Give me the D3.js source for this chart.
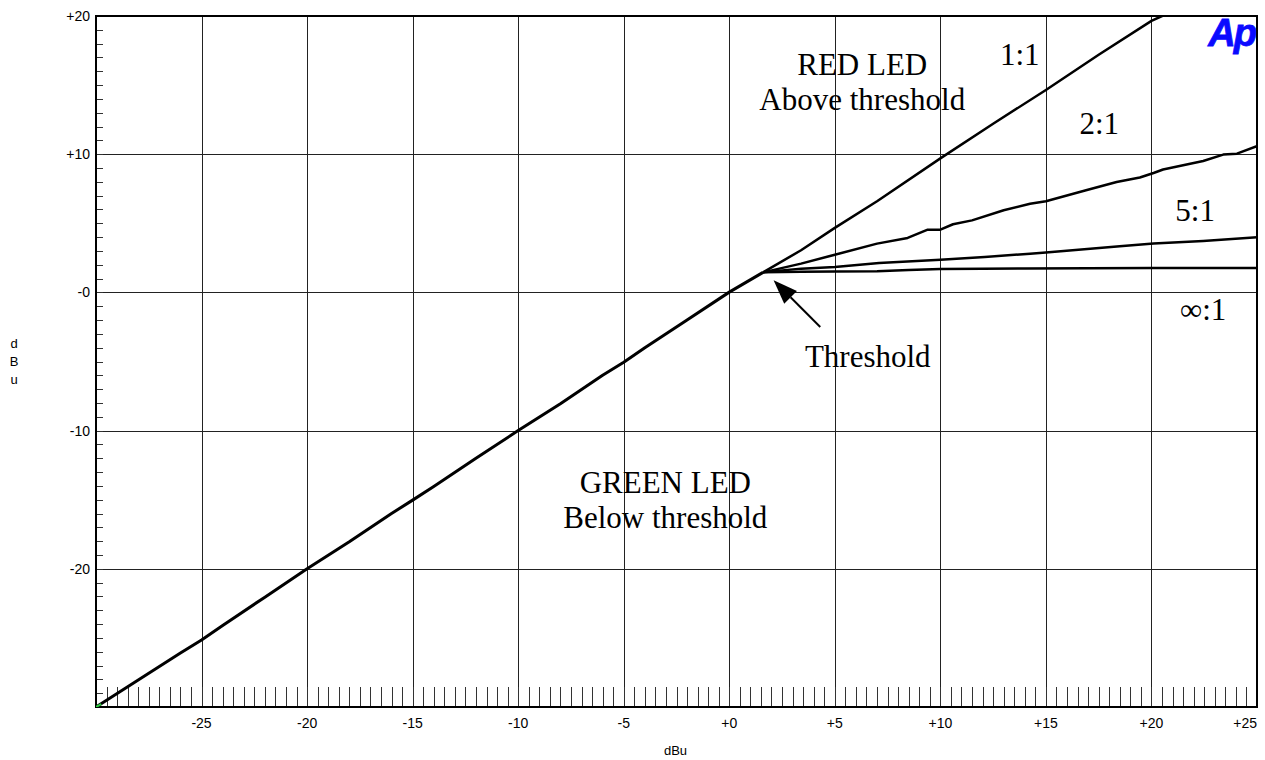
<!DOCTYPE html>
<html>
<head>
<meta charset="utf-8">
<script src="https://cdn.jsdelivr.net/npm/d3@7/dist/d3.min.js"></script>
<style>
  html, body { margin: 0; padding: 0; background: #fff; }
  svg { display: block; }
</style>
</head>
<body>
<svg id="chart" width="1265" height="760"></svg>
<script>
// ---------- data (dBu in -> dBu out) ----------
const xTicks = [-25, -20, -15, -10, -5, 0, 5, 10, 15, 20, 25];
const xTickLabels = ["-25", "-20", "-15", "-10", "-5", "+0", "+5", "+10", "+15", "+20", "+25"];
const yTicks = [20, 10, 0, -10, -20];
const yTickLabels = ["+20", "+10", "-0", "-10", "-20"];

// common segment below threshold (all ratios overlap)
const belowX = [-30, -28, -26, -25, -24, -22, -20, -18, -16, -15, -14, -12, -10, -8, -6, -5, -4, -2, 0, 1.6];
const belowY = [-30, -28.05, -26.1, -25.15, -24.1, -22.05, -20, -18.05, -16.0, -15.03, -14.05, -12.0, -10.0, -8.05, -6.0, -5.05, -4.0, -2.0, 0.02, 1.45];

const r11X = [1.6, 3.4, 5, 7, 10, 12.5, 15, 17.5, 20, 20.5, 20.8];
const r11Y = [1.45, 3.05, 4.67, 6.6, 9.7, 12.2, 14.65, 17.2, 19.65, 20.0, 20.2];

const r21X = [1.6, 3.4, 5, 7, 8.45, 9.4, 10, 10.6, 11.5, 13, 14.25, 15, 16.9, 18.35, 19.45, 20.1, 20.55, 22.45, 23.4, 24.05, 25.1];
const r21Y = [1.45, 2.08, 2.73, 3.53, 3.94, 4.54, 4.54, 4.93, 5.21, 5.94, 6.42, 6.59, 7.39, 7.99, 8.31, 8.64, 8.89, 9.51, 9.97, 10.04, 10.64];

const r51X = [1.6, 3.4, 5, 7.1, 10, 12.1, 14.25, 15, 18.5, 20.1, 22.45, 25.1];
const r51Y = [1.45, 1.72, 1.84, 2.13, 2.37, 2.56, 2.8, 2.88, 3.34, 3.53, 3.72, 4.01];

const rInfX = [1.6, 3.4, 5, 7, 8.5, 10, 12, 14, 17, 20, 25.1];
const rInfY = [1.45, 1.5, 1.52, 1.53, 1.62, 1.7, 1.72, 1.73, 1.75, 1.76, 1.77];

const ratioLabels = ["1:1", "2:1", "5:1", "\u221E:1"];
const ratioLabelPos = [[13.76, 16.43], [17.53, 11.44], [22.07, 5.14], [22.45, -2.02]];

// ---------- layout ----------
const svg = d3.select("#chart");
const L = 96, T = 16, R = 1257, B = 707;
const x = d3.scaleLinear().domain([-30, 25]).range([L, R]);
const y = d3.scaleLinear().domain([-30, 20]).range([B, T]);

const serif = "'Liberation Serif', 'Times New Roman', serif";
const sans = "'Liberation Sans', Arial, sans-serif";

// grid
const g = svg.append("g");
g.selectAll("line.vg").data(xTicks.filter(d => d < 25)).enter().append("line")
  .attr("x1", d => Math.round(x(d)) + 0.5).attr("x2", d => Math.round(x(d)) + 0.5)
  .attr("y1", T).attr("y2", B)
  .attr("stroke", "#222").attr("stroke-width", 1);
g.selectAll("line.hg").data(yTicks.filter(d => d < 20)).enter().append("line")
  .attr("y1", d => Math.round(y(d)) + 0.5).attr("y2", d => Math.round(y(d)) + 0.5)
  .attr("x1", L).attr("x2", R)
  .attr("stroke", "#222").attr("stroke-width", 1);

// minor ticks bottom (every 0.5 dBu)
const bottomMinor = d3.range(-29.5, 25, 0.5);
g.selectAll("line.bm").data(bottomMinor).enter().append("line")
  .attr("x1", d => Math.round(x(d)) + 0.5).attr("x2", d => Math.round(x(d)) + 0.5)
  .attr("y1", B - 20).attr("y2", B)
  .attr("stroke", "#333").attr("stroke-width", 1);
// minor ticks left (every 1 dBu)
const leftMinor = d3.range(-29, 20, 1);
g.selectAll("line.lm").data(leftMinor).enter().append("line")
  .attr("y1", d => Math.round(y(d)) + 0.5).attr("y2", d => Math.round(y(d)) + 0.5)
  .attr("x1", L).attr("x2", L + 7)
  .attr("stroke", "#333").attr("stroke-width", 1);

// frame
svg.append("rect").attr("x", L).attr("y", T).attr("width", R - L).attr("height", B - T)
  .attr("fill", "none").attr("stroke", "#000").attr("stroke-width", 2);

// tick labels
svg.selectAll("text.xl").data(xTicks).enter().append("text")
  .attr("x", d => d === 25 ? R : x(d))
  .attr("y", B + 21)
  .attr("text-anchor", d => d === 25 ? "end" : "middle")
  .attr("font-family", sans).attr("font-size", 14).attr("fill", "#000")
  .text((d, i) => xTickLabels[i]);
svg.selectAll("text.yl").data(yTicks).enter().append("text")
  .attr("x", L - 6)
  .attr("y", d => y(d) + 5)
  .attr("text-anchor", "end")
  .attr("font-family", sans).attr("font-size", 14).attr("fill", "#000")
  .text((d, i) => yTickLabels[i]);

// axis titles
svg.append("text").attr("x", (L + R) / 2 - 1).attr("y", 755).attr("text-anchor", "middle")
  .attr("font-family", sans).attr("font-size", 13).text("dBu");
const yTitle = svg.append("text").attr("font-family", sans).attr("font-size", 13).attr("text-anchor", "middle");
["d", "B", "u"].forEach((c, i) => {
  yTitle.append("tspan").attr("x", 14).attr("y", 348 + i * 18).text(c);
});

// curves
svg.append("clipPath").attr("id", "clip").append("rect")
  .attr("x", L).attr("y", T).attr("width", R - L).attr("height", B - T);
const line = d3.line().x(d => x(d[0])).y(d => y(d[1]));
const curves = svg.append("g").attr("clip-path", "url(#clip)");
const zip = (a, b) => a.map((v, i) => [v, b[i]]);
curves.append("path").datum(zip(belowX, belowY)).attr("d", line)
  .attr("fill", "none").attr("stroke", "#000").attr("stroke-width", 3).attr("stroke-linejoin", "round");
[[r11X, r11Y], [r21X, r21Y], [r51X, r51Y], [rInfX, rInfY]].forEach(([a, b]) => {
  curves.append("path").datum(zip(a, b)).attr("d", line)
    .attr("fill", "none").attr("stroke", "#000").attr("stroke-width", 2.5).attr("stroke-linejoin", "round");
});
// small green trace at origin
curves.append("path").datum([[-30, -30], [-29.75, -29.8]]).attr("d", line)
  .attr("fill", "none").attr("stroke", "#2ecc40").attr("stroke-width", 2);

// ratio labels
svg.selectAll("text.rl").data(ratioLabels).enter().append("text")
  .attr("x", (d, i) => x(ratioLabelPos[i][0]))
  .attr("y", (d, i) => y(ratioLabelPos[i][1]))
  .attr("text-anchor", "middle")
  .attr("font-family", serif).attr("font-size", 31).attr("fill", "#000")
  .text(d => d);

// region labels
const notes = [
  ["RED LED", 6.3, 15.71], ["Above threshold", 6.3, 13.18],
  ["GREEN LED", -3.03, -14.54], ["Below threshold", -3.03, -17.07],
  ["Threshold", 6.56, -5.4]
];
svg.selectAll("text.nt").data(notes).enter().append("text")
  .attr("x", d => x(d[1])).attr("y", d => y(d[2]))
  .attr("text-anchor", "middle")
  .attr("font-family", serif).attr("font-size", 31).attr("fill", "#000")
  .text(d => d[0]);

// arrow
const tail = [4.31, -2.5], tip = [2.1, 0.875];
const tx = x(tail[0]), ty = y(tail[1]), hx = x(tip[0]), hy = y(tip[1]);
const ang = Math.atan2(hy - ty, hx - tx);
const headLen = 24, headW = 9;
const bx = hx - headLen * Math.cos(ang), by = hy - headLen * Math.sin(ang);
svg.append("line").attr("x1", tx).attr("y1", ty).attr("x2", bx).attr("y2", by)
  .attr("stroke", "#000").attr("stroke-width", 2);
svg.append("path")
  .attr("d", `M${hx},${hy} L${bx + headW * Math.sin(ang)},${by - headW * Math.cos(ang)} L${bx - headW * Math.sin(ang)},${by + headW * Math.cos(ang)} Z`)
  .attr("fill", "#000");

// Ap logo
svg.append("text").attr("x", 1255).attr("y", 46).attr("text-anchor", "end")
  .attr("font-family", sans).attr("font-weight", "bold").attr("font-style", "italic")
  .attr("font-size", 38).attr("letter-spacing", -2).attr("fill", "#0a0aff")
  .attr("stroke", "#0a0aff").attr("stroke-width", 0.8)
  .text("Ap");
</script>
</body>
</html>
